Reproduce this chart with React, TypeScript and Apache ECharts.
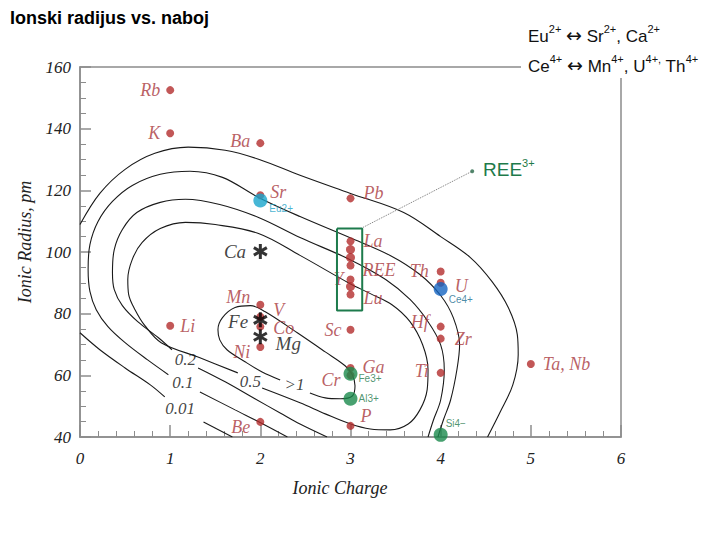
import React, { useEffect, useRef } from "react";
import * as echarts from "echarts";

// ---- axis ----
const xMin = 0, xMax = 6, xStep = 1;
const yMin = 40, yMax = 160, yStep = 20;

// ---- red element dots (charge, ionic radius pm) ----
const elemNames = ["Rb", "K", "Li", "Ba", "Sr", "Mn", "V", "Co", "Ni", "Be", "Pb", "La", "REE", "Y", "Lu", "Sc", "Ga", "Cr", "P", "Th", "U", "Hf", "Zr", "Ti", "Ta, Nb"];
const elemCharge = [1, 1, 1, 2, 2, 2, 2, 2, 2, 2, 3, 3, 3, 3, 3, 3, 3, 3, 3, 4, 4, 4, 4, 4, 5];
const elemRadius = [152.5, 138.5, 76.1, 135.3, 118.4, 82.9, 79, 75.8, 69.2, 44.9, 117.4, 103.5, 95.6, 91.1, 86.2, 74.8, 62.4, 60, 43.6, 93.7, 90, 75.8, 71.9, 60.8, 63.7];

// unlabeled REE dots in the column
const reeCharge = [3, 3, 3];
const reeRadius = [100.8, 98.2, 88.8];

// ---- asterisks ----
const starNames = ["Ca", "Fe", "Mg"];
const starCharge = [2, 2, 2];
const starRadius = [100.2, 78, 72.5];

// ---- coloured ions ----
const ionNames = ["Eu2+", "Ce4+", "Fe3+", "Al3+", "Si4−"];
const ionCharge = [2, 4, 3, 3, 4];
const ionRadius = [116.7, 88, 60.5, 52.4, 40.7];

// ---- contour lines (charge, radius) ----
const c001a = [[0, 108.9], [0.22, 119.0], [0.5, 126.8], [0.83, 132.0], [1.2, 134.0], [1.61, 133.0], [1.98, 130.1], [2.44, 124.9], [3.0, 119.0], [3.59, 112.8], [4.0, 105.0], [4.33, 98.2], [4.57, 90.4], [4.75, 82.0], [4.85, 73.2], [4.86, 66.7], [4.8, 56.9], [4.66, 48.1], [4.52, 40]];
const c001b = [[0, 73.8], [0.22, 68.3], [0.5, 62.4], [0.78, 56.9], [0.94, 53.0]];
const c001c = [[1.37, 44.9], [1.69, 40]];
const c01a = [[2.3, 40], [2.05, 43.9], [1.72, 48.8], [1.33, 54.6]];
const c01b = [[0.98, 60.2], [0.75, 65.0], [0.5, 70.6], [0.31, 75.8], [0.18, 81.3], [0.11, 87.2], [0.09, 94.3], [0.11, 102.4], [0.2, 109.9], [0.36, 116.4], [0.58, 121.6], [0.89, 125.2], [1.22, 126.2], [1.58, 124.2], [1.98, 117.7], [2.44, 111.5], [2.99, 104.7], [3.44, 98.9], [3.77, 92.7], [4.0, 85.9], [4.14, 78.7], [4.21, 69.9], [4.18, 61.8], [4.11, 52.0], [4.03, 45.5], [3.97, 40]];
const c02a = [[1.31, 62.4], [1.61, 57.9], [1.94, 52.4], [2.22, 47.8], [2.44, 44.2], [2.74, 40]];
const c02b = [[1.02, 68.3], [0.87, 72.2], [0.64, 77.4], [0.47, 82.6], [0.38, 87.8], [0.36, 93.3], [0.38, 100.8], [0.47, 107.3], [0.63, 112.8], [0.89, 116.1], [1.17, 117.1], [1.55, 115.4], [1.98, 111.2], [2.44, 104.7], [2.99, 97.6], [3.39, 91.1], [3.66, 84.6], [3.86, 77.4], [4.0, 69.9], [4.04, 61.8], [4.0, 52.0], [3.92, 45.5], [3.86, 40]];
const c05 = [[2.02, 55.9], [2.44, 51.1], [2.72, 47.5], [3.0, 44.2], [3.22, 42.6], [3.44, 42.3], [3.64, 44.2], [3.77, 48.8], [3.85, 55.3], [3.86, 61.8], [3.8, 69.9], [3.66, 77.4], [3.46, 82.9], [3.22, 86.5], [2.99, 89.8], [2.44, 98.9], [1.98, 106.0], [1.5, 108.9], [1.17, 109.6], [0.89, 107.6], [0.69, 103.1], [0.58, 97.6], [0.53, 91.1], [0.54, 86.2], [0.61, 81.3], [0.72, 76.1], [0.9, 70.6], [1.33, 65.7], [1.75, 60.8]];
const c1 = [[2.55, 54.3], [2.72, 52.7], [2.89, 52.4], [3.02, 53.3], [3.05, 56.6], [3.02, 60.2], [2.94, 63.1], [2.72, 67.6], [2.41, 73.8], [2.05, 80.7], [1.89, 82.6], [1.72, 82.0], [1.58, 78.7], [1.53, 74.8], [1.55, 71.5], [1.63, 68.3], [1.83, 64.4], [2.02, 61.1], [2.22, 58.5]];

const contourLabelText = ["0.01", "0.1", "0.2", "0.5", ">1"];
const contourLabelCharge = [1.11, 1.14, 1.17, 1.89, 2.38];
const contourLabelRadius = [49.4, 57.6, 65.0, 57.9, 56.9];

// REE box and leader
const reeBox = [[2.85, 107.6], [3.13, 107.6], [3.13, 81], [2.85, 81], [2.85, 107.6]];
const reeLeader = [[3.14, 108], [4.35, 126.2]];

// ---- label placement styles ----
const elemLabelStyle: Record<string, any> = {
  Rb: { position: "left", distance: 6 },
  K: { position: "left", distance: 6 },
  Li: { position: "right", distance: 6 },
  Ba: { position: "left", distance: 6, offset: [0, -2] },
  Sr: { position: "right", distance: 6, offset: [0, -3] },
  Mn: { position: "left", distance: 6, offset: [0, -8] },
  V: { position: "right", distance: 9, offset: [0, -7] },
  Co: { position: "right", distance: 9, offset: [0, 1] },
  Ni: { position: "left", distance: 6, offset: [0, 5] },
  Be: { position: "left", distance: 6, offset: [0, 5] },
  Pb: { position: "right", distance: 9, offset: [0, -5] },
  La: { position: "right", distance: 9 },
  REE: { position: "right", distance: 8, offset: [0, 4] },
  Y: { position: "left", distance: 3 },
  Lu: { position: "right", distance: 9, offset: [0, 3] },
  Sc: { position: "left", distance: 5 },
  Ga: { position: "right", distance: 8, offset: [0, -1] },
  Cr: { position: "left", distance: 6, offset: [0, 5] },
  P: { position: "right", distance: 6, offset: [0, -10] },
  Th: { position: "left", distance: 8 },
  U: { position: "right", distance: 10, offset: [0, 3] },
  Hf: { position: "left", distance: 8, offset: [0, -5] },
  Zr: { position: "right", distance: 10 },
  Ti: { position: "left", distance: 8, offset: [0, -2] },
  "Ta, Nb": { position: "right", distance: 8 },
};
const starLabelStyle: Record<string, any> = {
  Ca: { position: "left", distance: 7 },
  Fe: { position: "left", distance: 5, offset: [0, 2] },
  Mg: { position: "right", distance: 8, offset: [0, 7] },
};
const ionStyle: Record<string, any> = {
  "Eu2+": { color: "#19a5cc", text: "#1aa0c6", position: "right", distance: 2, offset: [0, 8] },
  "Ce4+": { color: "#1464c0", text: "#1c6e90", position: "right", distance: 1, offset: [0, 10] },
  "Fe3+": { color: "#1a8a4c", text: "#1f7a4d", position: "right", distance: 1, offset: [0, 5] },
  "Al3+": { color: "#1a8a4c", text: "#1f7a4d", position: "right", distance: 1 },
  "Si4−": { color: "#1a8a4c", text: "#1f7a4d", position: "right", distance: 0, offset: [-2, -11] },
};

const STAR = "path://M-1.6,-8L1.6,-8L1.6,8L-1.6,8Z M6.13,5.39L-7.73,-2.61L-6.13,-5.39L7.73,2.61Z M-7.73,2.61L6.13,-5.39L7.73,-2.61L-6.13,5.39Z";
const SERIF = '"Liberation Serif", "DejaVu Serif", serif';
const SANS = '"Liberation Sans", Arial, sans-serif';
const AXIS_GRAY = "#8c8c8c";

function contour(data: number[][]) {
  return {
    type: "line",
    data,
    smooth: 0.35,
    symbol: "none",
    silent: true,
    z: 1,
    lineStyle: { color: "#1a1a1a", width: 1.1 },
  };
}

function buildOption() {
  const elemData = elemNames.map((n, i) => ({
    name: n,
    value: [elemCharge[i], elemRadius[i]],
    label: elemLabelStyle[n],
  }));
  const reeData = reeCharge.map((c, i) => [c, reeRadius[i]]);
  const starData = starNames.map((n, i) => ({
    name: n,
    value: [starCharge[i], starRadius[i]],
    label: starLabelStyle[n],
  }));
  const ionData = ionNames.map((n, i) => ({
    name: n,
    value: [ionCharge[i], ionRadius[i]],
    itemStyle: { color: ionStyle[n].color },
    label: {
      position: ionStyle[n].position,
      distance: ionStyle[n].distance,
      offset: ionStyle[n].offset || [0, 0],
      color: ionStyle[n].text,
    },
  }));
  const cLabelData = contourLabelText.map((t, i) => ({
    name: t,
    value: [contourLabelCharge[i], contourLabelRadius[i]],
  }));

  const sup = { fontSize: 11, fontFamily: SANS, fill: "#111", lineHeight: 12, verticalAlign: "top" };
  const nor = { fontSize: 17, fontFamily: SANS, fill: "#111", lineHeight: 21, verticalAlign: "bottom" };
  const arr = { fontSize: 19, fontFamily: '"DejaVu Sans", sans-serif', fill: "#111", lineHeight: 21, verticalAlign: "bottom" };

  return {
    animation: false,
    backgroundColor: "#ffffff",
    grid: { left: 80, right: 99, top: 67, bottom: 103, show: true, borderColor: AXIS_GRAY, borderWidth: 1.5, backgroundColor: "transparent" },
    xAxis: {
      type: "value",
      min: xMin,
      max: xMax,
      interval: xStep,
      axisLine: { show: true, onZero: false, lineStyle: { color: AXIS_GRAY, width: 1.5 } },
      axisTick: { show: true, inside: true, length: 12, lineStyle: { color: AXIS_GRAY, width: 1.5 } },
      minorTick: { show: true, splitNumber: 5, length: 6, lineStyle: { color: AXIS_GRAY, width: 1 } },
      splitLine: { show: false },
      axisLabel: { fontFamily: SERIF, fontStyle: "italic", fontSize: 17, color: "#222", margin: 13 },
    },
    yAxis: {
      type: "value",
      min: yMin,
      max: yMax,
      interval: yStep,
      axisLine: { show: true, onZero: false, lineStyle: { color: AXIS_GRAY, width: 1.5 } },
      axisTick: { show: true, inside: true, length: 11, lineStyle: { color: AXIS_GRAY, width: 1.5 } },
      minorTick: { show: true, splitNumber: 4, length: 6, lineStyle: { color: AXIS_GRAY, width: 1 } },
      splitLine: { show: false },
      axisLabel: { fontFamily: SERIF, fontStyle: "italic", fontSize: 17, color: "#222", margin: 9 },
    },
    graphic: [
      {
        type: "text", left: 10, top: 9, z: 100,
        style: { text: "Ionski radijus vs. naboj", fontSize: 18, fontWeight: "bold", fontFamily: SANS, fill: "#000" },
      },
      { type: "rect", z: 99, shape: { x: 521, y: 52, width: 199, height: 26 }, style: { fill: "#ffffff" } },
      {
        type: "text", x: 528, y: 34, z: 100,
        style: {
          text: "{n|Eu}{s|2+}{n| }{a|↔}{n| Sr}{s|2+}{n|, Ca}{s|2+}",
          textVerticalAlign: "middle",
          rich: { n: nor, s: sup, a: arr },
        },
      },
      {
        type: "text", x: 528, y: 64, z: 100,
        style: {
          text: "{n|Ce}{s|4+}{n| }{a|↔}{n| Mn}{s|4+}{n|, U}{s|4+,}{n| Th}{s|4+}",
          textVerticalAlign: "middle",
          rich: { n: nor, s: sup, a: arr },
        },
      },
      {
        type: "text", x: 483, y: 168, z: 100,
        style: {
          text: "{a|REE}{b|3+}",
          textVerticalAlign: "middle",
          rich: {
            a: { fontSize: 19, fontFamily: SANS, fill: "#1e7a4a", lineHeight: 22, verticalAlign: "bottom" },
            b: { fontSize: 11, fontFamily: SANS, fill: "#1e7a4a", lineHeight: 12, verticalAlign: "top" },
          },
        },
      },
      {
        type: "text", x: 25, y: 242, rotation: Math.PI / 2, z: 100,
        style: { text: "Ionic Radius, pm", fontSize: 18, fontStyle: "italic", fontFamily: SERIF, fill: "#222", textAlign: "center", textVerticalAlign: "middle" },
      },
      {
        type: "text", x: 340, y: 488, z: 100,
        style: { text: "Ionic Charge", fontSize: 18, fontStyle: "italic", fontFamily: SERIF, fill: "#222", textAlign: "center", textVerticalAlign: "middle" },
      },
    ],
    series: [
      contour(c001a), contour(c001b), contour(c001c),
      contour(c01a), contour(c01b),
      contour(c02a), contour(c02b),
      contour(c05), contour(c1),
      {
        type: "scatter",
        data: cLabelData,
        symbolSize: 0,
        silent: true,
        z: 2,
        label: { show: true, position: "inside", formatter: "{b}", fontFamily: SERIF, fontStyle: "italic", fontSize: 17, color: "#111" },
      },
      {
        type: "line",
        data: reeLeader,
        symbol: "none",
        silent: true,
        z: 2,
        lineStyle: { color: "#777", width: 1, type: "dotted" },
      },
      {
        type: "scatter",
        data: [reeLeader[1]],
        symbolSize: 4,
        silent: true,
        z: 3,
        itemStyle: { color: "#2a6a4a" },
      },
      {
        type: "scatter",
        data: reeData,
        symbolSize: 9,
        silent: true,
        z: 3,
        itemStyle: { color: "#b32d2d" },
      },
      {
        type: "scatter",
        data: elemData,
        symbolSize: 8,
        silent: true,
        z: 3,
        itemStyle: { color: "#b32d2d" },
        label: { show: true, formatter: "{b}", fontFamily: SERIF, fontStyle: "italic", fontSize: 18, color: "#a8373c" },
      },
      {
        type: "scatter",
        data: starData,
        symbol: STAR,
        symbolKeepAspect: true,
        symbolSize: 15,
        silent: true,
        z: 4,
        itemStyle: { color: "#000" },
        label: { show: true, formatter: "{b}", fontFamily: SERIF, fontStyle: "italic", fontSize: 19, color: "#111" },
      },
      {
        type: "line",
        data: reeBox,
        symbol: "none",
        silent: true,
        z: 5,
        lineStyle: { color: "#1d7b4c", width: 2 },
      },
      {
        type: "scatter",
        data: ionData,
        symbolSize: 14,
        silent: true,
        z: 6,
        label: { show: true, formatter: "{b}", fontFamily: SANS, fontSize: 10 },
      },
    ],
  };
}

export default function App() {
  const ref = useRef<HTMLDivElement>(null);
  useEffect(() => {
    const chart = echarts.init(ref.current!, null, { renderer: "svg" });
    chart.setOption(buildOption() as any);
    return () => chart.dispose();
  }, []);
  return <div ref={ref} style={{ position: "absolute", left: 0, top: 0, width: 720, height: 540 }} />;
}
